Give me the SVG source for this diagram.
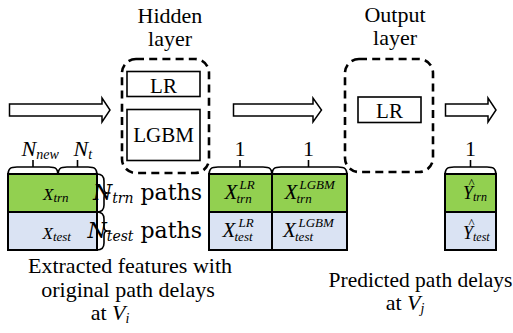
<svg xmlns="http://www.w3.org/2000/svg" width="513" height="333" viewBox="0 0 513 333">
  <rect width="513" height="333" fill="#fff"/>
  <!-- layer titles -->
  <g id="hidden-title">
    <text x="170" y="23" font-size="22" font-family="Liberation Serif" text-anchor="middle">Hidden</text>
    <text x="170" y="45.5" font-size="22" font-family="Liberation Serif" text-anchor="middle">layer</text>
  </g>
  <g id="output-title">
    <text x="395" y="22" font-size="22" font-family="Times New Roman" text-anchor="middle">Output</text>
    <text x="395" y="44.5" font-size="22" font-family="Times New Roman" text-anchor="middle">layer</text>
  </g>

  <!-- hidden layer: LR and LGBM models -->
  <g id="hidden-layer">
    <rect x="122" y="59" width="87" height="114" rx="14" fill="none" stroke="#000" stroke-width="2.6" stroke-dasharray="8 5.2"/>
    <g id="hidden-lr">
      <rect x="127" y="71.5" width="73" height="25" fill="#fff" stroke="#000" stroke-width="1.6"/>
      <text x="163.5" y="92.5" font-size="21" font-family="Tinos" text-anchor="middle">LR</text>
    </g>
    <g id="hidden-lgbm">
      <rect x="127" y="109.5" width="73" height="51" fill="#fff" stroke="#000" stroke-width="1.6"/>
      <text x="163.5" y="141.5" font-size="21" font-family="Tinos" text-anchor="middle">LGBM</text>
    </g>
  </g>

  <!-- output layer: LR model -->
  <g id="output-layer">
    <rect x="345" y="59" width="88" height="113" rx="14" fill="none" stroke="#000" stroke-width="2.6" stroke-dasharray="8 5.2"/>
    <g id="output-lr">
      <rect x="358" y="97" width="63" height="25.5" fill="#fff" stroke="#000" stroke-width="1.6"/>
      <text x="389.5" y="117.5" font-size="21" font-family="serif" text-anchor="middle">LR</text>
    </g>
  </g>

  <!-- block arrows -->
  <g id="connectors" fill="#fff" stroke="#000" stroke-width="1.5">
    <polygon points="9.5,104 102,104 102,98 110,110 102,122 102,116 9.5,116"/>
    <polygon points="233.5,104 313,104 313,98 321.5,110 313,122 313,116 233.5,116"/>
    <polygon points="445.5,104 488,104 488,98 496,110 488,122 488,116 445.5,116"/>
  </g>

  <!-- input feature matrix -->
  <g id="input-matrix">
    <g fill="none" stroke="#000" stroke-width="1.6">
      <path d="M8,175 C8,169 10,167 17,167 H49 C56,167 58,169 58,175 C58,169 60,167 67,167 H88 C95,167 97,169 97,175"/>
      <path d="M33,167 V160 M77.5,167 V160"/>
    </g>
    <text x="21.5" y="156" font-size="22" font-family="Liberation Serif, serif" font-style="italic">N<tspan font-size="14" dy="3">new</tspan></text>
    <text x="73.5" y="156" font-size="22" font-family="Liberation Serif, serif" font-style="italic">N<tspan font-size="14" dy="3">t</tspan></text>
    <g stroke="#000" stroke-width="2">
      <rect x="8" y="174" width="89" height="38" fill="#92d050"/>
      <rect x="8" y="212" width="89" height="38" fill="#dae3f3"/>
    </g>
    <text x="43" y="200" font-size="17" font-family="Liberation Serif, serif" font-style="italic">X<tspan font-size="13" dy="2">trn</tspan></text>
    <text x="42.5" y="239" font-size="17" font-family="Liberation Serif, serif" font-style="italic">X<tspan font-size="13" dy="2">test</tspan></text>
    <g fill="none" stroke="#000" stroke-width="1.6">
      <path d="M97,174 C102,174 104,176 104,181 V188 C104,191 105,193 107,193 M104,205 V198 C104,195 105,193 107,193 M104,205 C104,210 102,212 97,212"/>
      <path d="M97,212 C102,212 104,214 104,219 V226 C104,229 105,231 107,231 M104,243 V236 C104,233 105,231 107,231 M104,243 C104,248 102,250 97,250"/>
      <path d="M106,193 H110.5 M106,231 H110.5"/>
    </g>
    <text x="202" y="199.5" font-size="22" font-family="DejaVu Serif" text-anchor="end"><tspan font-style="italic">N</tspan><tspan font-style="italic" font-size="14" dy="3">trn</tspan><tspan dy="-3"> paths</tspan></text>
    <text x="202" y="237.5" font-size="22" font-family="DejaVu Serif" text-anchor="end"><tspan font-style="italic">N</tspan><tspan font-style="italic" font-size="14" dy="3">test</tspan><tspan dy="-3"> paths</tspan></text>
  </g>

  <!-- hidden layer outputs -->
  <g id="hidden-matrix">
    <g fill="none" stroke="#000" stroke-width="1.6">
      <path d="M209,175 C209,169 211,167 218,167 H263 C270,167 272,169 272,175 C272,169 274,167 281,167 H338 C345,167 347,169 347,175"/>
      <path d="M240,167 V160 M308.5,167 V160"/>
    </g>
    <text x="240" y="156" font-size="22" font-family="Liberation Serif" text-anchor="middle">1</text>
    <text x="308.5" y="156" font-size="22" font-family="Liberation Serif" text-anchor="middle">1</text>
    <g stroke="#000" stroke-width="2">
      <rect x="209" y="174" width="63" height="38" fill="#92d050"/>
      <rect x="272" y="174" width="75" height="38" fill="#92d050"/>
      <rect x="209" y="212" width="63" height="38" fill="#dae3f3"/>
      <rect x="272" y="212" width="75" height="38" fill="#dae3f3"/>
    </g>
    <text x="224.5" y="198.5" font-size="21" font-family="Liberation Serif" font-style="italic">X</text>
    <text x="239.5" y="188.5" font-size="13" font-family="Liberation Serif" font-style="italic">LR</text>
    <text x="236.5" y="202.5" font-size="13" font-family="Liberation Serif" font-style="italic">trn</text>
    <text x="284.5" y="198.5" font-size="21" font-family="Liberation Serif" font-style="italic">X</text>
    <text x="299.5" y="188.5" font-size="13" font-family="Liberation Serif" font-style="italic">LGBM</text>
    <text x="296.5" y="202.5" font-size="13" font-family="Liberation Serif" font-style="italic">trn</text>
    <text x="222.5" y="237" font-size="21" font-family="Liberation Serif" font-style="italic">X</text>
    <text x="238.5" y="226.5" font-size="13" font-family="Liberation Serif" font-style="italic">LR</text>
    <text x="234.5" y="240.5" font-size="13" font-family="Liberation Serif" font-style="italic">test</text>
    <text x="283" y="237" font-size="21" font-family="Liberation Serif" font-style="italic">X</text>
    <text x="298.5" y="226.5" font-size="13" font-family="Liberation Serif" font-style="italic">LGBM</text>
    <text x="295" y="240.5" font-size="13" font-family="Liberation Serif" font-style="italic">test</text>
  </g>

  <!-- predicted delays -->
  <g id="output-matrix">
    <g fill="none" stroke="#000" stroke-width="1.6">
      <path d="M445,175 C445,169 447,167 454,167 H487 C494,167 496,169 496,175"/>
      <path d="M470.5,167 V160"/>
    </g>
    <text x="470.5" y="156" font-size="22" font-family="Liberation Serif" text-anchor="middle">1</text>
    <g stroke="#000" stroke-width="2">
      <rect x="445" y="174" width="51" height="38" fill="#92d050"/>
      <rect x="445" y="212" width="51" height="38" fill="#dae3f3"/>
    </g>
    <text x="463" y="199" font-size="18" font-family="Liberation Serif" font-style="italic">Y<tspan font-size="12" dy="2">trn</tspan></text>
    <text x="471.5" y="187" font-size="13" font-family="Liberation Serif" text-anchor="middle">^</text>
    <text x="463" y="238.5" font-size="18" font-family="Liberation Serif" font-style="italic">Y<tspan font-size="12" dy="2">test</tspan></text>
    <text x="471.5" y="226.5" font-size="13" font-family="Liberation Serif" text-anchor="middle">^</text>
  </g>

  <!-- captions -->
  <g id="input-caption">
    <text x="130" y="273" font-size="22" font-family="Liberation Serif" text-anchor="middle">Extracted features with</text>
    <text x="128" y="296.5" font-size="22" font-family="Liberation Serif" text-anchor="middle">original path delays</text>
    <text x="110" y="320" font-size="22" font-family="Liberation Serif" text-anchor="middle">at <tspan font-style="italic">V</tspan><tspan font-style="italic" font-size="14" dy="3">i</tspan></text>
  </g>
  <g id="output-caption">
    <text x="420.5" y="287" font-size="21.5" font-family="Liberation Serif" text-anchor="middle">Predicted path delays</text>
    <text x="405" y="310" font-size="22" font-family="Liberation Serif" text-anchor="middle">at <tspan font-style="italic">V</tspan><tspan font-style="italic" font-size="14" dy="3">j</tspan></text>
  </g>
</svg>
